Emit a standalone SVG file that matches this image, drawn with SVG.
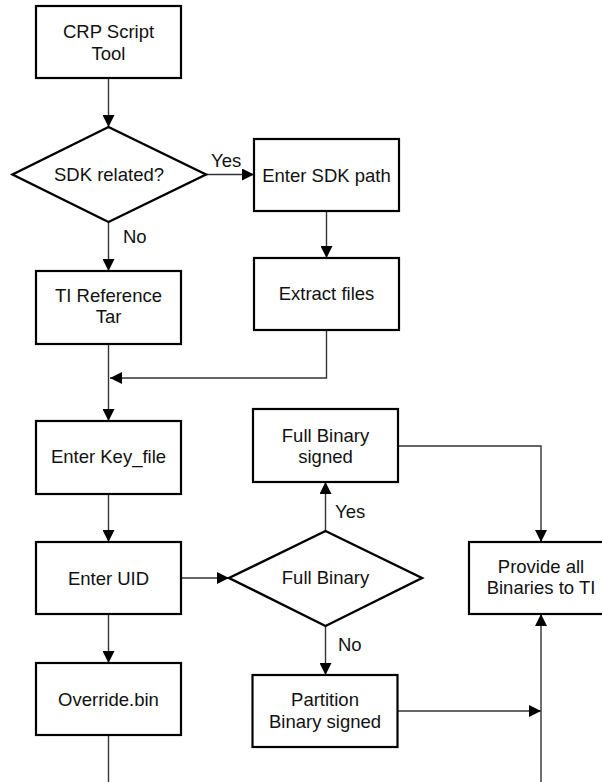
<svg xmlns="http://www.w3.org/2000/svg" width="602" height="782" viewBox="0 0 602 782">
<defs>
<marker id="ah" markerUnits="userSpaceOnUse" markerWidth="12" markerHeight="12" refX="12" refY="6" orient="auto">
<path d="M0,0 L12,6 L0,12 z" fill="#000"/>
</marker>
<style>
.box{fill:#fff;stroke:#000;stroke-width:2.2}
.dia{fill:#fff;stroke:#000;stroke-width:2.4}
.c{fill:none;stroke:#333;stroke-width:1.4}
.a{marker-end:url(#ah)}
text{font-family:"Liberation Sans",Arial,sans-serif;font-size:18.5px;fill:#111}
.m{text-anchor:middle}
</style>
</defs>
<rect width="602" height="782" fill="#fff"/>
<g id="connectors">
<line class="c a" x1="108.5" y1="78" x2="108.5" y2="127"/>
<line class="c a" x1="206" y1="174.5" x2="254" y2="174.5"/>
<line class="c a" x1="108.5" y1="222" x2="108.5" y2="271"/>
<line class="c a" x1="326.5" y1="211" x2="326.5" y2="258"/>
<polyline class="c a" points="326.5,330 326.5,378 110,378"/>
<line class="c a" x1="108.5" y1="344" x2="108.5" y2="421"/>
<line class="c a" x1="108.5" y1="494" x2="108.5" y2="542"/>
<line class="c a" x1="108.5" y1="614" x2="108.5" y2="663"/>
<line class="c" x1="108.5" y1="735" x2="108.5" y2="782"/>
<line class="c a" x1="181" y1="578" x2="229" y2="578"/>
<line class="c a" x1="325.5" y1="531" x2="325.5" y2="482"/>
<line class="c a" x1="325.5" y1="626" x2="325.5" y2="675"/>
<polyline class="c a" points="398,446 541,446 541,542"/>
<line class="c a" x1="397" y1="711" x2="541" y2="711"/>
<line class="c a" x1="541" y1="782" x2="541" y2="614"/>
<text x="211" y="167">Yes</text>
<text x="123" y="243">No</text>
<text x="335" y="518">Yes</text>
<text x="338" y="651">No</text>
</g>
<g id="crp">
<rect class="box" x="36" y="6" width="145" height="72"/>
<text class="m" x="108.5" y="38">CRP Script</text>
<text class="m" x="108.5" y="59.5">Tool</text>
</g>
<g id="sdk-related">
<polygon class="dia" points="108.5,127 206,174.5 108.5,222 12.5,174.5"/>
<text class="m" x="109" y="181">SDK related?</text>
</g>
<g id="enter-sdk">
<rect class="box" x="254" y="139" width="145" height="72"/>
<text class="m" x="326.5" y="181.5">Enter SDK path</text>
</g>
<g id="extract">
<rect class="box" x="254" y="258" width="145" height="72"/>
<text class="m" x="326.5" y="300">Extract files</text>
</g>
<g id="ti-ref">
<rect class="box" x="36" y="271" width="145" height="73"/>
<text class="m" x="108.5" y="301.5">TI Reference</text>
<text class="m" x="108.5" y="323">Tar</text>
</g>
<g id="key-file">
<rect class="box" x="36" y="421" width="145" height="73"/>
<text class="m" x="108.5" y="463">Enter Key_file</text>
</g>
<g id="uid">
<rect class="box" x="36" y="542" width="145" height="72"/>
<text class="m" x="108.5" y="584.5">Enter UID</text>
</g>
<g id="override">
<rect class="box" x="36" y="663" width="145" height="72"/>
<text class="m" x="108.5" y="705.5">Override.bin</text>
</g>
<g id="full-binary">
<polygon class="dia" points="325.5,531 422,578 325.5,626 229,578"/>
<text class="m" x="325.5" y="584">Full Binary</text>
</g>
<g id="full-signed">
<rect class="box" x="253" y="409" width="145" height="73"/>
<text class="m" x="325.5" y="441.5">Full Binary</text>
<text class="m" x="325.5" y="462.5">signed</text>
</g>
<g id="partition">
<rect class="box" x="252.5" y="675" width="145" height="72"/>
<text class="m" x="325" y="706">Partition</text>
<text class="m" x="325" y="727.5">Binary signed</text>
</g>
<g id="provide">
<rect class="box" x="469" y="542" width="145" height="72"/>
<text class="m" x="541" y="572.5">Provide all</text>
<text class="m" x="541" y="594">Binaries to TI</text>
</g>
</svg>
